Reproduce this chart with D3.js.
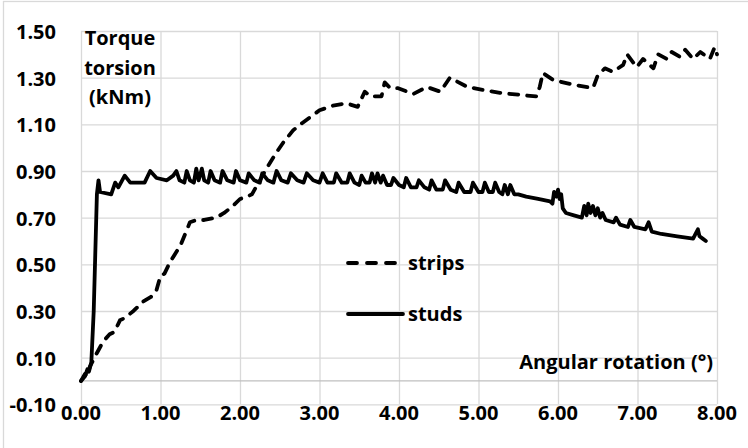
<!DOCTYPE html>
<html>
<head>
<meta charset="utf-8">
<style>
body { margin: 0; background: white; }
text {
  font-family: "Open Sans", Lato, sans-serif;
  font-weight: bold;
  fill: black;
}
.grid line { stroke: #d9d9d9; stroke-width: 1.3px; }
</style>
</head>
<body>
<script src="https://cdn.jsdelivr.net/npm/d3@7"></script>

<script>
var width = 748,
    height = 448;

// tick values and labels
var xTicks = [0, 1, 2, 3, 4, 5, 6, 7, 8];
var xTickLabels = ["0.00", "1.00", "2.00", "3.00", "4.00", "5.00", "6.00", "7.00", "8.00"];
var yTicks = [-0.1, 0.1, 0.3, 0.5, 0.7, 0.9, 1.1, 1.3, 1.5];
var yTickLabels = ["-0.10", "0.10", "0.30", "0.50", "0.70", "0.90", "1.10", "1.30", "1.50"];
var yTitle = ["Torque", "torsion", "(kNm)"];
var xTitle = "Angular rotation (°)";
var seriesNames = ["strips", "studs"];

// strips (dashed)
var stripsX = [0.00, 0.05, 0.08, 0.11, 0.20, 0.28, 0.36, 0.42, 0.49, 0.55, 0.66, 0.78, 0.88, 0.95, 1.00, 1.05,
  1.12, 1.25, 1.37, 1.45, 1.55, 1.70, 1.80, 1.91, 2.00, 2.09, 2.15, 2.25, 2.35, 2.46, 2.54, 2.67,
  2.78, 2.88, 3.00, 3.17, 3.34, 3.48, 3.57, 3.64, 3.78, 3.82, 3.89, 3.99, 4.18, 4.35, 4.52, 4.64,
  4.86, 5.10, 5.27, 5.56, 5.73, 5.77, 5.81, 5.94, 6.19, 6.44, 6.50, 6.59, 6.69, 6.82, 6.87, 6.99,
  7.07, 7.20, 7.26, 7.37, 7.43, 7.53, 7.60, 7.70, 7.79, 7.91, 7.97, 8.00];
var stripsY = [0.00, 0.03, 0.02, 0.06, 0.12, 0.17, 0.20, 0.21, 0.26, 0.27, 0.30, 0.34, 0.36, 0.39, 0.45, 0.46,
  0.51, 0.58, 0.68, 0.69, 0.69, 0.70, 0.72, 0.75, 0.78, 0.79, 0.80, 0.86, 0.92, 0.98, 1.02, 1.075,
  1.105, 1.13, 1.16, 1.18, 1.19, 1.175, 1.24, 1.22, 1.22, 1.28, 1.255, 1.255, 1.23, 1.26, 1.24, 1.30,
  1.26, 1.245, 1.235, 1.225, 1.22, 1.26, 1.32, 1.29, 1.27, 1.255, 1.31, 1.34, 1.325, 1.355, 1.40, 1.345,
  1.38, 1.34, 1.40, 1.38, 1.41, 1.39, 1.42, 1.38, 1.41, 1.38, 1.43, 1.40];

// studs (solid)
var studsX = [0.00, 0.05, 0.08, 0.10, 0.13, 0.16, 0.20, 0.22, 0.24, 0.38, 0.43, 0.47, 0.55, 0.62, 0.74, 0.80,
  0.87, 0.95, 1.08, 1.16, 1.20, 1.24, 1.30, 1.33, 1.37, 1.42, 1.45, 1.48, 1.52, 1.55, 1.60, 1.63,
  1.68, 1.75, 1.78, 1.84, 1.92, 1.95, 2.00, 2.08, 2.11, 2.18, 2.25, 2.28, 2.35, 2.42, 2.46, 2.52,
  2.60, 2.64, 2.72, 2.80, 2.84, 2.92, 3.00, 3.04, 3.10, 3.18, 3.21, 3.28, 3.35, 3.38, 3.44, 3.50,
  3.53, 3.58, 3.63, 3.66, 3.70, 3.73, 3.77, 3.80, 3.85, 3.90, 3.93, 4.00, 4.06, 4.09, 4.15, 4.22,
  4.25, 4.32, 4.38, 4.41, 4.47, 4.55, 4.58, 4.65, 4.72, 4.75, 4.82, 4.90, 4.93, 5.00, 5.05, 5.08,
  5.13, 5.18, 5.21, 5.26, 5.30, 5.33, 5.37, 5.40, 5.45, 5.50, 5.60, 5.75, 5.90, 5.93, 5.95, 5.98,
  6.00, 6.02, 6.04, 6.06, 6.10, 6.20, 6.30, 6.33, 6.36, 6.38, 6.41, 6.44, 6.47, 6.50, 6.53, 6.56,
  6.60, 6.70, 6.73, 6.78, 6.88, 6.91, 6.96, 7.10, 7.14, 7.18, 7.30, 7.50, 7.70, 7.73, 7.76, 7.78,
  7.82, 7.86];
var studsY = [0.00, 0.02, 0.05, 0.04, 0.08, 0.30, 0.80, 0.86, 0.81, 0.80, 0.85, 0.83, 0.88, 0.85, 0.85, 0.85,
  0.90, 0.87, 0.86, 0.88, 0.90, 0.86, 0.85, 0.90, 0.86, 0.85, 0.91, 0.86, 0.91, 0.86, 0.85, 0.90,
  0.86, 0.85, 0.90, 0.86, 0.85, 0.90, 0.86, 0.85, 0.89, 0.86, 0.85, 0.89, 0.86, 0.85, 0.90, 0.86,
  0.85, 0.89, 0.86, 0.85, 0.89, 0.86, 0.85, 0.89, 0.85, 0.85, 0.89, 0.85, 0.85, 0.89, 0.85, 0.84,
  0.88, 0.85, 0.85, 0.89, 0.85, 0.89, 0.85, 0.88, 0.84, 0.84, 0.87, 0.84, 0.83, 0.87, 0.83, 0.83,
  0.86, 0.83, 0.82, 0.86, 0.82, 0.82, 0.86, 0.82, 0.81, 0.85, 0.81, 0.81, 0.85, 0.81, 0.81, 0.85,
  0.81, 0.81, 0.85, 0.81, 0.80, 0.84, 0.80, 0.84, 0.80, 0.80, 0.79, 0.78, 0.77, 0.76, 0.81, 0.79,
  0.82, 0.78, 0.80, 0.74, 0.72, 0.71, 0.70, 0.75, 0.71, 0.76, 0.72, 0.75, 0.71, 0.74, 0.70, 0.72,
  0.69, 0.68, 0.70, 0.67, 0.66, 0.69, 0.66, 0.65, 0.68, 0.64, 0.63, 0.62, 0.61, 0.63, 0.65, 0.62,
  0.61, 0.60];

var svg = d3.select("body").append("svg")
    .attr("width", width)
    .attr("height", height);

// chart border
svg.append("rect")
    .attr("x", 3.5).attr("y", 1.5)
    .attr("width", 800).attr("height", 500)
    .attr("fill", "white")
    .attr("stroke", "#d9d9d9")
    .attr("stroke-width", 1.3);

var x = d3.scaleLinear().domain([0, 8]).range([81, 717]);
var y = d3.scaleLinear().domain([-0.1, 1.5]).range([404.3, 31]);

// gridlines
svg.append("g").attr("class", "grid")
    .attr("transform", "translate(81,0)")
    .call(d3.axisLeft(y).tickValues(yTicks).tickSize(-636).tickFormat(""));
svg.append("g").attr("class", "grid")
    .attr("transform", "translate(0,404.3)")
    .call(d3.axisBottom(x).tickValues(xTicks).tickSize(-373.3).tickFormat(""));
svg.selectAll(".grid .domain").remove();

// horizontal axis line at 0
svg.append("line")
    .attr("x1", x(0)).attr("x2", x(8))
    .attr("y1", y(0)).attr("y2", y(0))
    .attr("stroke", "#bfbfbf")
    .attr("stroke-width", 1.3);

// tick labels
svg.selectAll("text.ylab")
    .data(yTicks)
    .enter().append("text")
    .attr("class", "ylab")
    .attr("x", 56)
    .attr("y", function(d) { return y(d) + 8; })
    .attr("text-anchor", "end")
    .style("font-size", "20px")
    .text(function(d, i) { return yTickLabels[i]; });

svg.selectAll("text.xlab")
    .data(xTicks)
    .enter().append("text")
    .attr("class", "xlab")
    .attr("x", function(d) { return x(d); })
    .attr("y", 420)
    .attr("text-anchor", "middle")
    .style("font-size", "20px")
    .text(function(d, i) { return xTickLabels[i]; });

// axis titles
svg.selectAll("text.ytitle")
    .data(yTitle)
    .enter().append("text")
    .attr("class", "ytitle")
    .attr("x", 120)
    .attr("y", function(d, i) { return 45 + i * 29.5; })
    .attr("text-anchor", "middle")
    .style("font-size", "20px")
    .text(function(d) { return d; });

svg.append("text")
    .attr("x", 713)
    .attr("y", 369)
    .attr("text-anchor", "end")
    .style("font-size", "20px")
    .text(xTitle);

// series
var line = d3.line()
    .x(function(d) { return x(d[0]); })
    .y(function(d) { return y(d[1]); });

var strips = d3.zip(stripsX, stripsY);
var studs = d3.zip(studsX, studsY);

svg.append("path")
    .datum(studs)
    .attr("d", line)
    .attr("fill", "none")
    .attr("stroke", "black")
    .attr("stroke-width", 3.8)
    .attr("stroke-linejoin", "round")
    .attr("stroke-linecap", "round");

svg.append("path")
    .datum(strips)
    .attr("d", line)
    .attr("fill", "none")
    .attr("stroke", "black")
    .attr("stroke-width", 3.8)
    .attr("stroke-linejoin", "round")
    .attr("stroke-linecap", "round")
    .attr("stroke-dasharray", "9,9");

// legend
var legend = svg.selectAll("g.legend")
    .data(seriesNames)
    .enter().append("g")
    .attr("class", "legend")
    .attr("transform", function(d, i) { return "translate(348," + (263 + i * 51) + ")"; });

legend.append("line")
    .attr("x1", 0).attr("x2", function(d, i) { return i == 0 ? 51 : 55; })
    .attr("y1", 0).attr("y2", 0)
    .attr("stroke", "black")
    .attr("stroke-width", 3.8)
    .attr("stroke-linecap", "round")
    .attr("stroke-dasharray", function(d, i) { return i == 0 ? "9,10" : null; });

legend.append("text")
    .attr("x", 60)
    .attr("y", 7)
    .style("font-size", "20px")
    .text(function(d) { return d; });
</script>
</body>
</html>
